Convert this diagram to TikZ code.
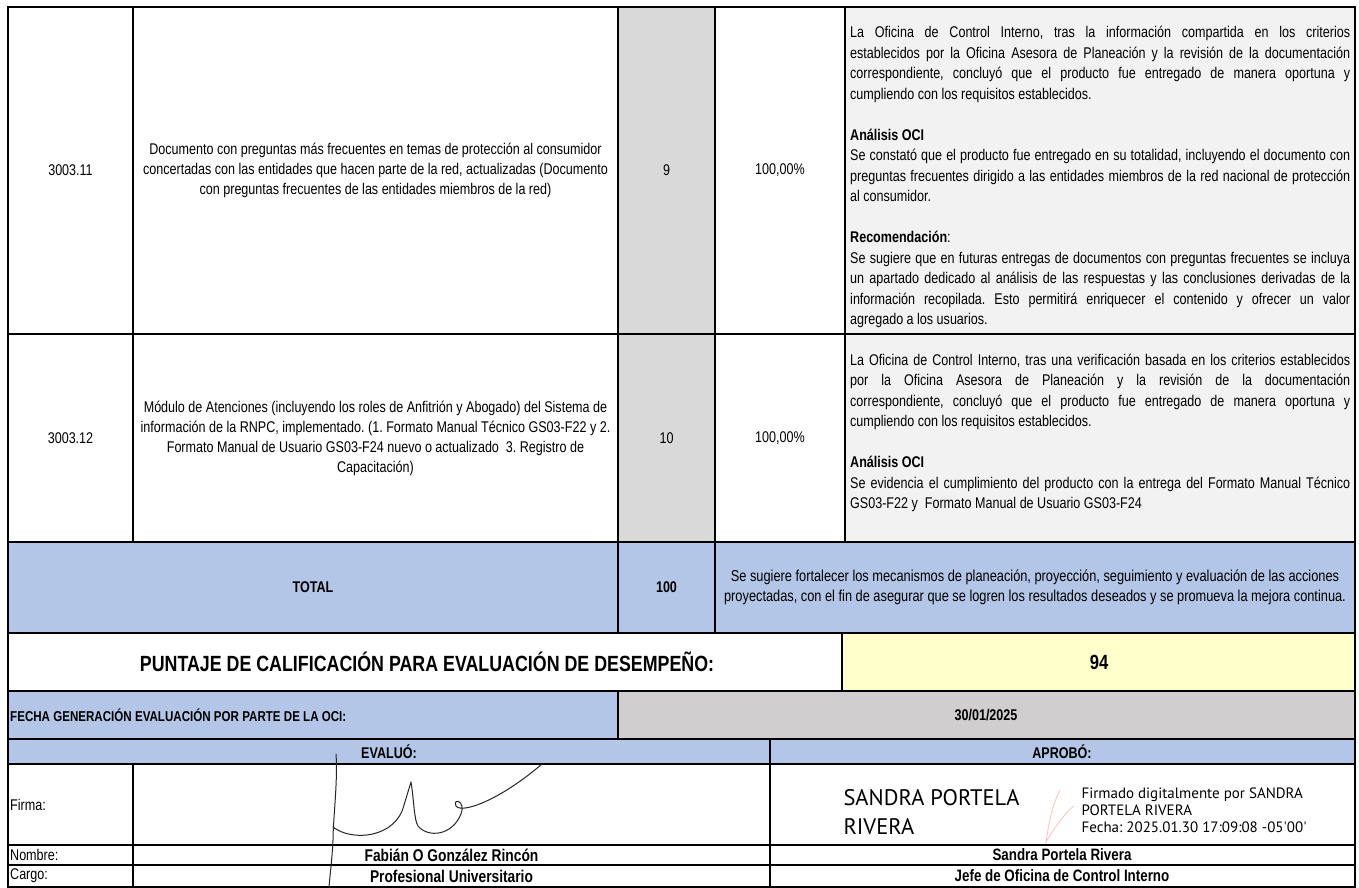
\documentclass[tikz,border=0pt]{standalone}
\usepackage{fontspec}
\setmainfont[FakeStretch=0.81]{Liberation Sans}
\newfontfamily\signfont{PT Sans}
\usetikzlibrary{positioning}
\definecolor{blueA}{HTML}{B4C6E7}
\definecolor{greyA}{HTML}{D9D9D9}
\definecolor{greyB}{HTML}{F2F2F2}
\definecolor{greyC}{HTML}{D0CECE}
\definecolor{yellowA}{HTML}{FFFFCC}
\frenchspacing

\begin{document}
\begin{tikzpicture}[x=1pt,y=-1pt,
        cell/.style = {font=\fontsize{15.5}{20}\selectfont, align=center, inner sep=0pt},
        bcell/.style = {font=\fontsize{15.5}{19}\selectfont\bfseries, align=center, inner sep=0pt},
        note/.style = {font=\fontsize{15.5}{20.5}\selectfont, text width=500pt, align=justify, inner sep=0pt, anchor=west},
        rule/.style = {line width=2.3pt},
        rulemid/.style = {line width=1.7pt},
        rulethin/.style = {line width=1.2pt}]
        \useasboundingbox (0,0) rectangle (1359,888);

        % fondos
        \fill[greyA] (618,7) rectangle (715,542);
        \fill[greyB] (845,7) rectangle (1355,542);
        \fill[blueA] (8,542) rectangle (1355,633);
        \fill[yellowA] (842,633) rectangle (1355,691);
        \fill[blueA] (8,691) rectangle (618,739);
        \fill[greyC] (618,691) rectangle (1355,739);
        \fill[blueA] (8,739) rectangle (1355,764);

        % reglas
        \foreach \y in {334,542,633,691,739,764} \draw[rule] (8,\y) -- (1355,\y);
        \foreach \y in {845,865} \draw[rulemid] (8,\y) -- (1355,\y);
        \foreach \x in {133,845} \draw[rule] (\x,7) -- (\x,542);
        \foreach \x in {618,715} \draw[rule] (\x,7) -- (\x,633);
        \draw[rule] (842,633) -- (842,691);
        \draw[rule] (618,691) -- (618,739);
        \draw[rulemid] (770,739) -- (770,887);
        \draw[rulethin] (133,764) -- (133,887);
        \draw[rule] (8,7) rectangle (1355,887);

        % fila 3003.11
        \node[cell] (cod1) at (70.5,170.5) {3003.11};
        \node[cell] (prod1) at (375.5,170.5) {Documento con preguntas más frecuentes en temas de protección al consumidor\\
            concertadas con las entidades que hacen parte de la red, actualizadas (Documento\\
            con preguntas frecuentes de las entidades miembros de la red)};
        \node[cell] (peso1) at (666.5,170.5) {9};
        \node[cell] (avance1) at (780,170.5) {100,00\%};
        \node[note] (obs1) at (850,177) {La Oficina de Control Interno, tras la información compartida en los criterios\linebreak
            establecidos por la Oficina Asesora de Planeación y la revisión de la documentación\linebreak
            correspondiente, concluyó que el producto fue entregado de manera oportuna y\linebreak
            cumpliendo con los requisitos establecidos.\\[20.5pt]
            \textbf{Análisis OCI}\\
            Se constató que el producto fue entregado en su totalidad, incluyendo el documento con\linebreak
            preguntas frecuentes dirigido a las entidades miembros de la red nacional de protección\linebreak
            al consumidor.\\[20.5pt]
            \textbf{Recomendación}:\\
            Se sugiere que en futuras entregas de documentos con preguntas frecuentes se incluya\linebreak
            un apartado dedicado al análisis de las respuestas y las conclusiones derivadas de la\linebreak
            información recopilada. Esto permitirá enriquecer el contenido y ofrecer un valor\linebreak
            agregado a los usuarios.};

        % fila 3003.12
        \node[cell] (cod2) at (70.5,438) {3003.12};
        \node[cell] (prod2) at (375.5,438) {Módulo de Atenciones (incluyendo los roles de Anfitrión y Abogado) del Sistema de\\
            información de la RNPC, implementado. (1. Formato Manual Técnico GS03-F22 y 2.\\
            Formato Manual de Usuario GS03-F24 nuevo o actualizado\ \ 3. Registro de\\
            Capacitación)};
        \node[cell] (peso2) at (666.5,438) {10};
        \node[cell] (avance2) at (780,438) {100,00\%};
        \node[note] (obs2) at (850,433) {La Oficina de Control Interno, tras una verificación basada en los criterios establecidos\linebreak
            por la Oficina Asesora de Planeación y la revisión de la documentación\linebreak
            correspondiente, concluyó que el producto fue entregado de manera oportuna y\linebreak
            cumpliendo con los requisitos establecidos.\\[20.5pt]
            \textbf{Análisis OCI}\\
            Se evidencia el cumplimiento del producto con la entrega del Formato Manual Técnico\linebreak
            GS03-F22 y\ \ Formato Manual de Usuario GS03-F24};

        % total
        \node[bcell] (total) at (313,587.5) {TOTAL};
        \node[bcell] (sumpeso) at (666.5,587.5) {100};
        \node[cell, font=\fontsize{15.8}{20}\selectfont] (concl) at (1035,587.5) {Se sugiere fortalecer los mecanismos de planeación, proyección, seguimiento y evaluación de las acciones\\
            proyectadas, con el fin de asegurar que se logren los resultados deseados y se promueva la mejora continua.};

        % puntaje y fecha
        \node[bcell, font=\fontsize{22}{25}\selectfont\bfseries] (puntaje) at (427,662) {PUNTAJE DE CALIFICACIÓN PARA EVALUACIÓN DE DESEMPEÑO:};
        \node[bcell, font=\fontsize{20.5}{23}\selectfont\bfseries] (nota) at (1099,662) {94};
        \node[bcell, font=\fontsize{14.3}{18}\selectfont\bfseries, anchor=west] (fechalbl) at (10,715) {FECHA GENERACIÓN EVALUACIÓN POR PARTE DE LA OCI:};
        \node[bcell] (fecha) at (986,715) {30/01/2025};

        % firmas
        \node[bcell] (evaluo) at (389,751.5) {EVALUÓ:};
        \node[bcell] (aprobo) at (1062,751.5) {APROBÓ:};
        \node[cell, anchor=west] (firmalbl) at (10,804.5) {Firma:};
        \node[cell, anchor=west] (nombrelbl) at (10,855) {Nombre:};
        \node[cell, anchor=west] (cargolbl) at (10,876) {Cargo:};
        \node[bcell, font=\fontsize{17}{19}\selectfont\bfseries] (nombre1) at (451.5,855) {Fabián O González Rincón};
        \node[bcell, font=\fontsize{17}{19}\selectfont\bfseries] (cargo1) at (451.5,876) {Profesional Universitario};
        \node[bcell, font=\fontsize{16.5}{19}\selectfont\bfseries] (nombre2) at (1062,855) {Sandra Portela Rivera};
        \node[bcell, font=\fontsize{16.5}{19}\selectfont\bfseries] (cargo2) at (1062,876) {Jefe de Oficina de Control Interno};

        % rubrica manuscrita
        \draw[black!85, line width=1pt, line cap=round, line join=round]
            (336,754) .. controls (338,780) and (333,820) .. (333,840) .. controls (332,860) and (330,875) .. (329,887);
        \draw[black!85, line width=1pt, line cap=round, line join=round]
            (333,827) .. controls (352,842) and (396,838) .. (404,805) -- (411,782)
            .. controls (414,800) and (414,820) .. (418,826) .. controls (428,838) and (452,836) .. (461,814)
            .. controls (466,800) and (452,798) .. (456,806) .. controls (462,814) and (500,800) .. (542,764);
        % firma digital
        \draw[red!25, line width=0.8pt] (1060,790) .. controls (1050,810) and (1048,830) .. (1046,842)
            .. controls (1058,822) and (1068,810) .. (1074,806);
        \node[font=\signfont\fontsize{22.5}{29}\selectfont, align=left, anchor=west] (firmadig) at (840,812) {SANDRA PORTELA\\RIVERA};
        \node[font=\signfont\fontsize{15}{17}\selectfont, align=left, anchor=west] (sello) at (1078,810) {Firmado digitalmente por SANDRA\\PORTELA RIVERA\\Fecha: 2025.01.30 17:09:08 -05'00'};
\end{tikzpicture}
\end{document}
